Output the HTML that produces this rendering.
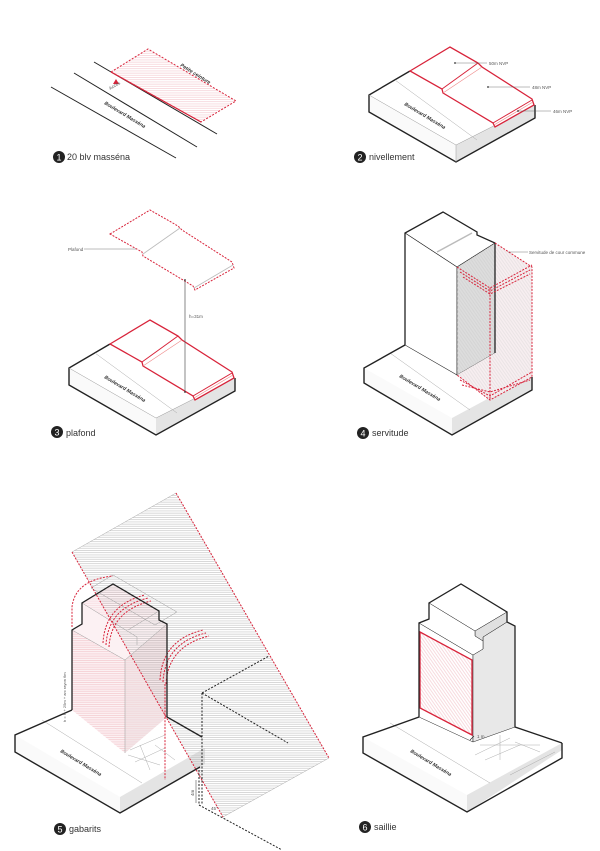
<!DOCTYPE html>
<html><head><meta charset="utf-8"><style>
html,body{margin:0;padding:0;background:#fff}
svg{display:block}
text{font-family:"Liberation Sans",sans-serif}
.lab{font-size:9px;fill:#333}
.num{font-size:9px;fill:#fff;text-anchor:middle}
.sm{font-size:4.5px;fill:#555}
.blv{font-size:5px;font-weight:bold;font-style:italic;fill:#333}
</style></head><body>
<svg width="600" height="851" viewBox="0 0 600 851" xmlns="http://www.w3.org/2000/svg">
<defs>
<pattern id="rH" width="4" height="2.2" patternUnits="userSpaceOnUse"><line x1="0" y1="0.5" x2="4" y2="0.5" stroke="#eca3ad" stroke-width="0.4"/></pattern>
<pattern id="gH" width="4" height="2.2" patternUnits="userSpaceOnUse"><line x1="0" y1="0.5" x2="4" y2="0.5" stroke="#aaa" stroke-width="0.45"/></pattern>
<pattern id="rD" width="2.5" height="2.5" patternUnits="userSpaceOnUse" patternTransform="rotate(55)"><line x1="0" y1="0.5" x2="2.5" y2="0.5" stroke="#eca3ad" stroke-width="0.4"/></pattern>
<pattern id="gD" width="2.5" height="2.5" patternUnits="userSpaceOnUse" patternTransform="rotate(55)"><line x1="0" y1="0.5" x2="2.5" y2="0.5" stroke="#ccc" stroke-width="0.5"/></pattern>
<g id="redblock">
<polygon points="410,71 450,47 478,63 482,67 532,99 534,105 495,127 493,123 443,93 442,89" fill="#fff" stroke="#d8233a" stroke-width="1.3"/>
<line x1="442" y1="89" x2="478" y2="63" stroke="#d8233a" stroke-width="1"/>
<line x1="443" y1="93" x2="482" y2="67" stroke="#e88" stroke-width="0.6"/>
<line x1="493" y1="123" x2="532" y2="100" stroke="#d8233a" stroke-width="1"/>
<line x1="494" y1="125" x2="533" y2="102" stroke="#e88" stroke-width="0.6"/>
</g>
</defs>

<!-- PANEL 1 -->
<g stroke="#222" stroke-width="1">
<line x1="51" y1="87" x2="176" y2="158"/>
<line x1="74" y1="73" x2="197" y2="147"/>
<line x1="94" y1="62" x2="217" y2="134"/>
</g>
<polygon points="111,72 148,49 236,101 201,122" fill="url(#rH)" stroke="#d8233a" stroke-width="1" stroke-dasharray="2,1.5"/>
<line x1="111" y1="72" x2="201" y2="122" stroke="#d8233a" stroke-width="1.2"/>
<polygon points="116,79 119,84 113,84" fill="#d8233a"/>
<text class="sm" transform="translate(110,90) rotate(-30)">Accès</text>
<text class="blv" transform="translate(180,66) rotate(32)" style="font-size:5px">Petite ceinture</text>
<text class="blv" transform="translate(104,104) rotate(31)">Boulevard  Masséna</text>
<circle cx="59" cy="157" r="6" fill="#222"/><text class="num" x="59" y="160.5">1</text>
<text class="lab" x="67" y="160">20 blv masséna</text>

<!-- PANEL 2 -->
<polygon points="369,95 456,145 535,105 448,55" fill="#fff"/>
<polygon points="369,95 456,145 456,162 369,112" fill="#fafafa"/>
<polygon points="456,145 535,105 535,118 456,162" fill="#e4e4e4"/>
<polyline points="410,71 369,95 369,112 456,162 535,118 535,105" fill="none" stroke="#222" stroke-width="1.4"/>
<line x1="369" y1="95" x2="456" y2="145" stroke="#999" stroke-width="0.5"/>
<line x1="456" y1="145" x2="535" y2="105" stroke="#999" stroke-width="0.5"/>
<line x1="456" y1="145" x2="456" y2="162" stroke="#999" stroke-width="0.5"/>
<line x1="395" y1="80" x2="477" y2="140" stroke="#aaa" stroke-width="0.5"/>
<use href="#redblock"/>
<text class="blv" transform="translate(404,105) rotate(31)">Boulevard  Masséna</text>
<g stroke="#555" stroke-width="0.4"><line x1="455" y1="63" x2="487" y2="63"/><line x1="488" y1="87" x2="530" y2="87"/><line x1="518" y1="111" x2="551" y2="111"/></g>
<g fill="#333"><circle cx="455" cy="63" r="0.9"/><circle cx="488" cy="87" r="0.9"/><circle cx="518" cy="111" r="0.9"/></g>
<text class="sm" x="489" y="65">50m NVP</text>
<text class="sm" x="532" y="89">48m NVP</text>
<text class="sm" x="553" y="113">46m NVP</text>
<circle cx="360" cy="157" r="6" fill="#222"/><text class="num" x="360" y="160.5">2</text>
<text class="lab" x="369" y="160">nivellement</text>

<!-- PANEL 3 -->
<polygon points="69,368 156,418 235,378 148,328" fill="#fff"/>
<polygon points="69,368 156,418 156,435 69,385" fill="#fafafa"/>
<polygon points="156,418 235,378 235,391 156,435" fill="#e4e4e4"/>
<polyline points="110,344 69,368 69,385 156,435 235,391 235,378" fill="none" stroke="#222" stroke-width="1.4"/>
<line x1="69" y1="368" x2="156" y2="418" stroke="#999" stroke-width="0.5"/>
<line x1="156" y1="418" x2="235" y2="378" stroke="#999" stroke-width="0.5"/>
<line x1="95" y1="353" x2="177" y2="413" stroke="#aaa" stroke-width="0.5"/>
<use href="#redblock" transform="translate(-300,273)"/>
<g transform="translate(-300,163)">
<polygon points="410,71 450,47 478,63 482,67 532,99 534,105 495,127 493,123 443,93 442,89" fill="#fff" stroke="#d8233a" stroke-width="1" stroke-dasharray="2,1.3"/>
<line x1="443" y1="91" x2="480" y2="65" stroke="#bbb" stroke-width="0.8"/>
<line x1="494" y1="125" x2="533" y2="102" stroke="#bbb" stroke-width="0.8"/>
</g>
<text class="blv" transform="translate(104,378) rotate(31)">Boulevard  Masséna</text>
<line x1="185" y1="280" x2="185" y2="392" stroke="#555" stroke-width="0.7"/>
<circle cx="185" cy="280" r="0.9" fill="#333"/><circle cx="185" cy="392" r="0.9" fill="#333"/>
<text class="sm" x="189" y="318">h=31m</text>
<line x1="84" y1="249" x2="136" y2="249" stroke="#555" stroke-width="0.4"/>
<text class="sm" x="68" y="251">Plafond</text>
<circle cx="57" cy="432" r="6" fill="#222"/><text class="num" x="57" y="435.5">3</text>
<text class="lab" x="66" y="436">plafond</text>

<!-- PANEL 4 -->
<polygon points="364,368 452,418 532,375 444,325" fill="#fff"/>
<polygon points="364,368 452,418 452,435 364,383" fill="#fafafa"/>
<polygon points="452,418 532,375 532,390 452,435" fill="#e4e4e4"/>
<line x1="390" y1="353" x2="470" y2="410" stroke="#aaa" stroke-width="0.5"/>
<polygon points="405,233 443,212 477,232 477,235 495,243 457,267" fill="#fff" stroke="#222" stroke-width="0.6"/>
<line x1="437" y1="252" x2="472" y2="233" stroke="#bbb" stroke-width="1.5"/>
<polygon points="405,233 457,267 457,375 405,345" fill="#fff" stroke="#222" stroke-width="0.6"/>
<polygon points="457,267 495,243 495,353 457,375" fill="#ddd" stroke="#222" stroke-width="0.6"/>
<polygon points="457,267 495,243 495,353 457,375" fill="url(#gD)"/>
<polygon points="495,243 532,267 532,377 490,400 457,375 495,353" fill="#f7eef0"/>
<polygon points="495,243 532,267 532,377 490,400 457,375 495,353" fill="url(#gD)" opacity="0.6"/>
<polyline points="405,345 405,233 443,212 477,232 477,235 495,243 495,353" fill="none" stroke="#222" stroke-width="1.3"/>
<polyline points="405,345 364,368 364,383 452,435 532,390 532,377" fill="none" stroke="#222" stroke-width="1.4"/>
<g fill="none" stroke="#d8233a" stroke-width="1" stroke-dasharray="2,1.3">
<polyline points="495,243 532,267 532,377 490,400 457,375"/>
<polyline points="457,267 490,288 532,265"/>
<polyline points="460,272 490,291 530,270"/>
<polyline points="463,277 490,294 530,274"/>
<line x1="490" y1="288" x2="490" y2="400"/>
<polyline points="460,380 490,396 532,372"/>
<polyline points="462,385 490,392 530,380"/>
</g>
<text class="blv" transform="translate(399,377) rotate(31)">Boulevard  Masséna</text>
<line x1="508" y1="252" x2="528" y2="252" stroke="#555" stroke-width="0.4"/>
<text class="sm" x="529" y="254">Servitude de cour commune</text>
<circle cx="363" cy="433" r="6" fill="#222"/><text class="num" x="363" y="436.5">4</text>
<text class="lab" x="372" y="436">servitude</text>

<!-- PANEL 5 -->
<polygon points="15,735 120,797 205,748 100,686" fill="#fff"/>
<polygon points="15,735 120,797 120,813 15,752" fill="#fafafa"/>
<polygon points="120,797 205,748 205,764 120,813" fill="#e4e4e4"/>
<line x1="42" y1="720" x2="142" y2="783" stroke="#aaa" stroke-width="0.5"/>
<g stroke="#999" stroke-width="0.4" fill="none"><path d="M130,750 L165,735 M128,755 L160,765 M140,745 L150,770 M155,745 L175,760 M135,762 L165,748"/></g>
<polygon points="72,630 82,624 82,603 113,584 159,611 159,620 167,624 167,717 125,753 72,710" fill="#fcf1f3"/>
<polygon points="72,630 125,660 125,753 72,710" fill="url(#rH)"/>
<polygon points="125,660 167,624 167,717 125,753" fill="#f3e6e8"/>
<polygon points="125,660 167,624 167,717 125,753" fill="url(#rH)" opacity="0.5"/>
<polygon points="82,603 113,584 159,611 128,630" fill="url(#rH)" opacity="0.5"/>
<g stroke="#999" stroke-width="0.5" fill="none">
<polyline points="72,630 125,660 167,624"/><line x1="125" y1="660" x2="125" y2="753"/>
<polyline points="82,603 137,637 137,645"/><polyline points="128,630 159,611"/>
<polygon points="113,575 177,612 155,625 91,588" />
</g>
<polygon points="72,552 176,493 329,758 223,817" fill="url(#gH)"/>
<line x1="72" y1="552" x2="176" y2="493" stroke="#aaa" stroke-width="0.5"/>
<line x1="329" y1="758" x2="223" y2="817" stroke="#aaa" stroke-width="0.5"/>
<g fill="none" stroke="#d8233a" stroke-width="1" stroke-dasharray="2,1.3">
<line x1="176" y1="493" x2="329" y2="758"/>
<line x1="72" y1="552" x2="223" y2="817"/>
<path d="M72,627 L72,607 Q75,580 113,576"/>
<path d="M103,643 Q105,605 145,595"/><path d="M106,645 Q108,608 148,598"/><path d="M109,647 Q111,611 151,601"/>
<path d="M160,680 Q162,640 203,630"/><path d="M163,682 Q165,643 206,633"/><path d="M166,684 Q168,646 209,636"/>
<line x1="165" y1="684" x2="165" y2="780"/>
</g>
<polyline points="72,710 72,630 82,624 82,603 113,584 159,611 159,620 167,624 167,717 202,737" fill="none" stroke="#222" stroke-width="1.3"/>
<polyline points="72,710 15,735 15,752 120,813 200,767" fill="none" stroke="#222" stroke-width="1.4"/>
<g fill="none" stroke="#222" stroke-width="1" stroke-dasharray="2,1.5">
<line x1="202" y1="693" x2="202" y2="805"/>
<line x1="199" y1="770" x2="199" y2="805"/>
<line x1="202" y1="693" x2="269" y2="656"/>
<line x1="202" y1="693" x2="288" y2="743"/>
<line x1="199" y1="805" x2="282" y2="850"/>
</g>
<line x1="196" y1="780" x2="196" y2="803" stroke="#333" stroke-width="0.5"/>
<text class="sm" transform="translate(194,796) rotate(-90)">4m</text>
<text class="sm" x="211" y="810">45°</text>
<text class="sm" transform="translate(66,722) rotate(-90)" style="font-size:4px">h = P + 25m + arc rayon 6m</text>
<text class="blv" transform="translate(60,752) rotate(31)">Boulevard  Masséna</text>
<circle cx="60" cy="829" r="6" fill="#222"/><text class="num" x="60" y="832.5">5</text>
<text class="lab" x="69" y="832">gabarits</text>

<!-- PANEL 6 -->
<polygon points="363,737 467,795 562,743 458,685" fill="#fff"/>
<polygon points="363,737 467,795 467,812 363,753" fill="#fafafa"/>
<polygon points="467,795 562,743 562,750 467,812" fill="#e4e4e4"/>
<line x1="390" y1="723" x2="490" y2="783" stroke="#aaa" stroke-width="0.5"/>
<g stroke="#999" stroke-width="0.4" fill="none"><path d="M480,745 L540,745 M475,755 L510,738 M485,760 L520,745 M500,735 L500,760 M515,742 L540,752 M510,775 L555,752"/></g>
<polygon points="419,623 473,655 473,742 419,717" fill="#fff" stroke="#222" stroke-width="0.5"/>
<polygon points="473,655 483,649 483,637 507,622 515,626 515,727 473,742" fill="#e8e8e8" stroke="#222" stroke-width="0.5"/>
<polygon points="429,603 461,584 507,612 475,631" fill="#fff" stroke="#222" stroke-width="0.5"/>
<polygon points="475,631 507,612 507,622 483,637 483,641 475,636" fill="#e0e0e0" stroke="#222" stroke-width="0.5"/>
<polygon points="429,603 475,631 475,636 483,641 483,649 473,655 419,623 429,619" fill="#fff" stroke="#222" stroke-width="0.5"/>
<polygon points="420,632 472,660 472,735 420,708" fill="url(#rD)" stroke="#d8233a" stroke-width="1.3"/>
<polyline points="419,717 419,623 429,619 429,603 461,584 507,612 507,622 515,626 515,727 562,743" fill="none" stroke="#222" stroke-width="1.3"/>
<polyline points="419,717 363,737 363,753 467,812 562,758 562,743" fill="none" stroke="#222" stroke-width="1.4"/>
<text class="sm" x="477" y="738">1 m</text>
<line x1="470" y1="740" x2="474" y2="736" stroke="#222" stroke-width="0.6"/>
<text class="blv" transform="translate(410,752) rotate(31)">Boulevard  Masséna</text>
<circle cx="365" cy="827" r="6" fill="#222"/><text class="num" x="365" y="830.5">6</text>
<text class="lab" x="374" y="830">saillie</text>
</svg>
</body></html>
